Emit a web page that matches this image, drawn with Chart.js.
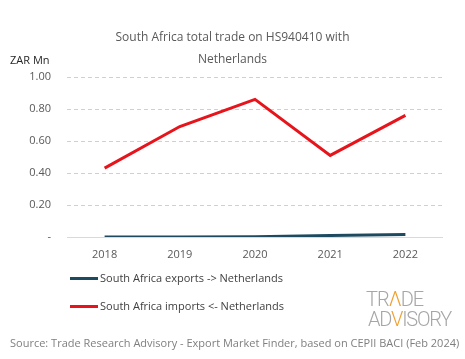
<!DOCTYPE html>
<html><head><meta charset="utf-8">
<script src="https://cdn.jsdelivr.net/npm/chart.js@4"></script>
<style>
html,body{margin:0;padding:0;background:#fff;}
#wrap{position:relative;width:465px;height:359px;font-family:"Open Sans",sans-serif;}
canvas{position:absolute;left:0;top:0;}
.t{position:absolute;white-space:nowrap;}
#unit{left:10px;top:52px;font-size:11px;color:#262626;}
.leg{position:absolute;left:70px;font-size:11px;color:#404040;white-space:nowrap;}
.leg i{display:inline-block;width:28px;height:3px;vertical-align:middle;margin-right:2px;position:relative;top:-1px;}
#src{left:10px;top:335px;font-size:11px;color:#7f7f7f;}
#logo{position:absolute;left:366px;top:289px;font-family:Roboto,sans-serif;font-weight:300;color:#a6a6a6;line-height:18px;}
#logo .o{color:#f0a030;}
</style></head>
<body><div id="wrap">
<canvas id="c" width="465" height="359"></canvas>
<div class="t" id="unit">ZAR Mn</div>
<div class="leg" style="top:270px"><i style="background:#1d4a5f"></i>South Africa exports -&gt; Netherlands</div>
<div class="leg" style="top:298px"><i style="background:#e8141b"></i>South Africa imports &lt;- Netherlands</div>
<div id="logo"><div style="font-size:20px;letter-spacing:-1px;position:relative;top:1px">TR<span class="o">Λ</span>DE</div><div style="font-size:20px;letter-spacing:-1.2px;position:relative;left:2px;top:3px">AD<span class="o">V</span>ISORY</div></div>
<div class="t" id="src">Source: Trade Research Advisory - Export Market Finder, based on CEPII BACI (Feb 2024)</div>
</div>
<script>
const years = ["2018","2019","2020","2021","2022"];
const exportsNL = [0.000, 0.000, 0.001, 0.010, 0.016];
const importsNL = [0.43, 0.69, 0.86, 0.51, 0.76];
const titleLines = ["South Africa total trade on HS940410 with","Netherlands"];

const dashedGrid = {
  id:'dashedGrid',
  beforeDatasetsDraw(chart){
    const {ctx, chartArea, scales:{y}} = chart;
    ctx.save();
    y.ticks.forEach(t=>{
      const py = Math.round(y.getPixelForValue(t.value)) + 0.5;
      ctx.beginPath();
      ctx.lineWidth = 1;
      if (t.value === 0) { ctx.setLineDash([]); ctx.strokeStyle = '#d9d9d9'; }
      else { ctx.setLineDash([4,3]); ctx.strokeStyle = '#d0d0d0'; }
      ctx.moveTo(chartArea.left, py);
      ctx.lineTo(chartArea.right, py);
      ctx.stroke();
    });
    ctx.restore();
  }
};

new Chart(document.getElementById('c'), {
  type: 'line',
  data: {
    labels: years,
    datasets: [
      {label:'South Africa exports -> Netherlands', data: exportsNL, borderColor:'#1d4a5f', borderWidth:3, pointRadius:0, tension:0, fill:false},
      {label:'South Africa imports <- Netherlands', data: importsNL, borderColor:'#e8141b', borderWidth:3, pointRadius:0, tension:0, fill:false}
    ]
  },
  plugins:[dashedGrid],
  options: {
    responsive:false, animation:false,
    layout:{padding:{top:27,left:11,right:11,bottom:92}},
    plugins:{
      legend:{display:false},
      tooltip:{enabled:false},
      title:{display:true,text:titleLines,color:'#595959',font:{family:'"Open Sans", sans-serif',size:12,weight:'normal',lineHeight:1.83},padding:{top:0,bottom:6}}
    },
    scales:{
      x:{
        offset:true,
        grid:{display:false,drawTicks:false},
        border:{display:false},
        ticks:{color:'#595959',font:{family:'"Open Sans", sans-serif',size:11},padding:11},
        afterFit:(s)=>{s.height=30;}
      },
      y:{
        min:0,max:1,
        ticks:{stepSize:0.2,color:'#595959',font:{family:'"Open Sans", sans-serif',size:11},padding:16,
          callback:(v)=> Math.abs(v)<1e-9 ? '-' : Number(v).toFixed(2)},
        grid:{display:false,drawTicks:false},
        border:{display:false},
        afterFit:(s)=>{s.width=56;}
      },
      yPad:{
        position:'right', display:true, min:0, max:1,
        ticks:{display:false},
        grid:{display:false,drawTicks:false},
        border:{display:false},
        afterFit:(s)=>{s.width=11;}
      }
    }
  }
});
</script>
</body></html>
